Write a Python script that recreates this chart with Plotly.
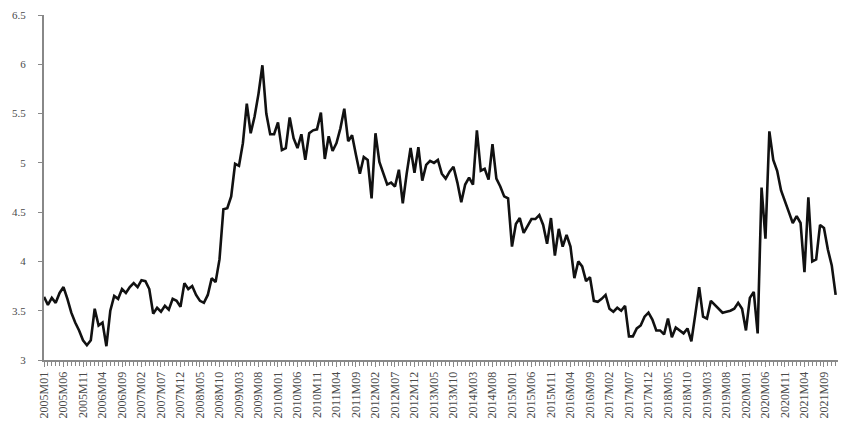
import numpy as np
import plotly.graph_objects as go

# Monthly series, 2005M01 .. 2021M12
start_year = 2005
values = [
    3.64, 3.56, 3.63, 3.58, 3.68, 3.74, 3.62, 3.48, 3.38, 3.30, 3.20, 3.15,  # 2005
    3.20, 3.52, 3.35, 3.38, 3.14, 3.50, 3.65, 3.62, 3.72, 3.68, 3.74, 3.78,  # 2006
    3.74, 3.81, 3.80, 3.72, 3.47, 3.53, 3.49, 3.55, 3.51, 3.62, 3.60, 3.54,  # 2007
    3.78, 3.72, 3.75, 3.66, 3.60, 3.58, 3.66, 3.83, 3.79, 4.02, 4.53, 4.54,  # 2008
    4.66, 4.99, 4.97, 5.20, 5.60, 5.30, 5.47, 5.70, 5.99, 5.50, 5.29, 5.29,  # 2009
    5.41, 5.13, 5.15, 5.46, 5.25, 5.15, 5.29, 5.03, 5.30, 5.33, 5.34, 5.51,  # 2010
    5.04, 5.27, 5.12, 5.20, 5.35, 5.55, 5.22, 5.28, 5.08, 4.89, 5.06, 5.03,  # 2011
    4.64, 5.30, 5.01, 4.89, 4.78, 4.80, 4.76, 4.93, 4.59, 4.89, 5.15, 4.90,  # 2012
    5.16, 4.82, 4.98, 5.02, 5.00, 5.03, 4.89, 4.84, 4.91, 4.96, 4.80, 4.60,  # 2013
    4.78, 4.85, 4.78, 5.33, 4.92, 4.94, 4.83, 5.19, 4.84, 4.76, 4.66, 4.64,  # 2014
    4.15, 4.38, 4.44, 4.29, 4.36, 4.43, 4.43, 4.47, 4.37, 4.18, 4.44, 4.06,  # 2015
    4.33, 4.15, 4.27, 4.15, 3.83, 4.00, 3.95, 3.80, 3.84, 3.60, 3.59, 3.62,  # 2016
    3.66, 3.52, 3.49, 3.53, 3.50, 3.55, 3.24, 3.24, 3.32, 3.35, 3.44, 3.48,  # 2017
    3.41, 3.30, 3.30, 3.26, 3.42, 3.23, 3.33, 3.30, 3.27, 3.32, 3.19, 3.46,  # 2018
    3.74, 3.44, 3.42, 3.60, 3.56, 3.52, 3.48, 3.49, 3.50, 3.52, 3.58, 3.52,  # 2019
    3.30, 3.63, 3.69, 3.27, 4.75, 4.23, 5.32, 5.03, 4.92, 4.72, 4.60, 4.50,  # 2020
    4.39, 4.46, 4.39, 3.89, 4.65, 4.00, 4.02, 4.37, 4.34, 4.12, 3.96, 3.66,  # 2021
]
months = [f"{start_year + i // 12}M{i % 12 + 1:02d}" for i in range(len(values))]
x = np.arange(len(values))

y_ticks = [3, 3.5, 4, 4.5, 5, 5.5, 6, 6.5]
y_labels = ["3", "3.5", "4", "4.5", "5", "5.5", "6", "6.5"]

AXIS_GREY = "#888888"
TEXT_GREY = "#4a4a4a"
FONT = "Liberation Serif, Times New Roman, serif"

fig = go.Figure(
    go.Scatter(
        x=x, y=values,
        mode="lines",
        line=dict(color="#111111", width=2.6),
        showlegend=False,
    )
)

# the page body keeps its default 8px margin, so size the figure 8px smaller
fig.update_layout(
    width=842, height=426,
    margin=dict(l=36, r=12, t=7, b=74),
    paper_bgcolor="white",
    plot_bgcolor="white",
    font=dict(family=FONT, size=11, color=TEXT_GREY),
    xaxis=dict(
        range=[0, len(values) - 0.4],
        tickvals=x[::5].tolist(),
        ticktext=months[::5],
        tickangle=-90,
        ticks="outside", ticklen=5, tickcolor=AXIS_GREY, tickwidth=1,
        minor=dict(dtick=1, ticks="outside", ticklen=4, tickcolor=AXIS_GREY, tickwidth=1),
        showline=True, linecolor=AXIS_GREY, linewidth=2,
        showgrid=False, zeroline=False,
        tickfont=dict(size=12),
        automargin=False,
    ),
    yaxis=dict(
        range=[3, 6.5],
        tickvals=y_ticks,
        ticktext=y_labels,
        ticks="outside", ticklen=4, tickcolor=AXIS_GREY, tickwidth=1,
        showline=True, linecolor=AXIS_GREY, linewidth=2,
        showgrid=False, zeroline=False,
        tickfont=dict(size=11),
        ticklabelstandoff=10,
        automargin=False,
    ),
)

fig.write_html("out.html")
